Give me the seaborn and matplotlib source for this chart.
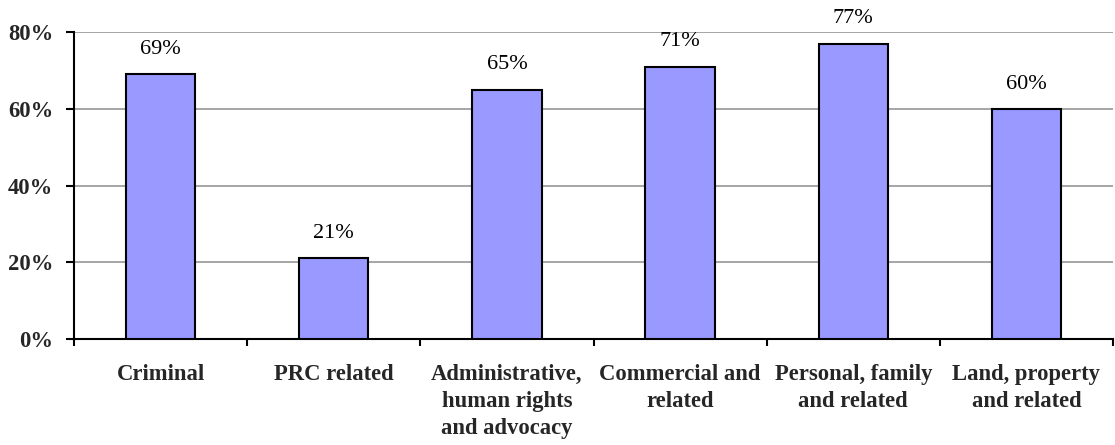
import matplotlib
matplotlib.use("Agg")
import matplotlib.pyplot as plt
import seaborn as sns
import pandas as pd

categories = [
    "Criminal",
    "PRC related",
    "Administrative,\nhuman rights\nand advocacy",
    "Commercial and\nrelated",
    "Personal, family\nand related",
    "Land, property\nand related",
]
shares = [69, 21, 65, 71, 77, 60]
y_ticks = [0, 20, 40, 60, 80]
y_tick_labels = ["0%", "20%", "40%", "60%", "80%"]

sns.set_theme(style="white")
plt.rcParams["font.family"] = ["Liberation Serif", "DejaVu Serif"]

df = pd.DataFrame({"category": categories, "share": shares})

fig = plt.figure(figsize=(11.15, 4.45), dpi=100)
ax = fig.add_axes([0.0664, 0.238, 0.9318, 0.690])

sns.barplot(data=df, x="category", y="share", ax=ax, color="#9999FF",
            saturation=1, width=0.4, edgecolor="black", linewidth=1.5, zorder=3)

ax.set_ylim(0, 80)
ax.set_xlim(-0.5, len(categories) - 0.5)
ax.set_yticks(y_ticks)
ax.set_yticklabels(y_tick_labels, fontsize=16.3, fontweight="bold")
ax.yaxis.grid(True, color="#969696", linewidth=1.2, zorder=0)
ax.set_axisbelow(True)

# Ticks on category boundaries, labels centred under bars
ax.set_xticks([i - 0.5 for i in range(len(categories) + 1)])
ax.set_xticklabels([])
ax.set_xticks(range(len(categories)), minor=True)
ax.set_xticklabels(categories, minor=True, fontsize=16.3, fontweight="bold",
                   linespacing=1.38, va="top")
ax.tick_params(axis="x", which="major", direction="out", length=5, width=1.5,
               color="black", bottom=True)
ax.tick_params(axis="x", which="minor", length=0, pad=18)
ax.tick_params(axis="y", direction="out", length=6, width=1.5, color="black",
               left=True, pad=9)

ax.set_xlabel("")
ax.set_ylabel("")
for side in ["top", "right"]:
    ax.spines[side].set_visible(False)
for side in ["left", "bottom"]:
    ax.spines[side].set_color("black")
    ax.spines[side].set_linewidth(1.5)

for i, v in enumerate(shares):
    ax.annotate(f"{v}%", (i, v), xytext=(0, 11), textcoords="offset points",
                ha="center", va="bottom", fontsize=16, color="black")

fig.savefig("out.png", dpi=100)
